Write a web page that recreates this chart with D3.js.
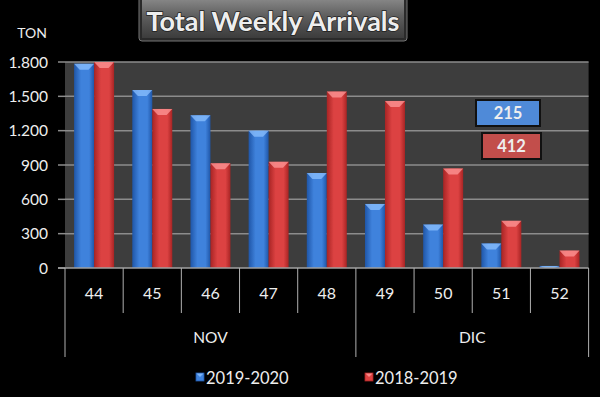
<!DOCTYPE html>
<html>
<head>
<meta charset="utf-8">
<script src="https://cdn.jsdelivr.net/npm/d3@7"></script>
<style>
  html, body { margin: 0; padding: 0; background: #000; }
  svg { display: block; }
  text { font-family: Lato, "Open Sans", sans-serif; fill: #eeeeee; }
</style>
</head>
<body>
<div id="chart"></div>
<script>
// chart data
const weeks = ['44', '45', '46', '47', '48', '49', '50', '51', '52'];
const months = [
  { name: 'NOV', from: '44', to: '48' },
  { name: 'DIC', from: '49', to: '52' }
];
const seriesNames = ['2019-2020', '2018-2019'];
const values2019 = [1785, 1555, 1335, 1200, 830, 560, 380, 215, 18];
const values2018 = [1800, 1390, 915, 928, 1542, 1460, 870, 412, 152];
const yTicks = [0, 300, 600, 900, 1200, 1500, 1800];
const callouts = [
  { label: '215', series: '2019-2020' },
  { label: '412', series: '2018-2019' }
];

const width = 600, height = 397;
const margin = { top: 62, right: 11.4, bottom: 129, left: 65 };
const plotW = width - margin.left - margin.right;
const plotH = height - margin.top - margin.bottom;

const colors = {
  '2019-2020': { dark: '#1f56a8', mid: '#3f82dc', light: '#8cc0ff', box: '#4f8ad8' },
  '2018-2019': { dark: '#a82424', mid: '#dc4242', light: '#ff9a9a', box: '#c24e4b' }
};

const svg = d3.select('#chart').append('svg')
  .attr('width', width)
  .attr('height', height);

const defs = svg.append('defs');
seriesNames.forEach((s, i) => {
  const grad = defs.append('linearGradient')
    .attr('id', 'bar' + i)
    .attr('x1', '0').attr('x2', '1').attr('y1', '0').attr('y2', '0');
  grad.append('stop').attr('offset', '0%').attr('stop-color', colors[s].dark);
  grad.append('stop').attr('offset', '35%').attr('stop-color', colors[s].mid);
  grad.append('stop').attr('offset', '75%').attr('stop-color', colors[s].mid);
  grad.append('stop').attr('offset', '100%').attr('stop-color', colors[s].dark);
});
const tg = defs.append('linearGradient')
  .attr('id', 'titleGrad')
  .attr('x1', '0').attr('x2', '0').attr('y1', '0').attr('y2', '1');
tg.append('stop').attr('offset', '0%').attr('stop-color', '#8a8a8a');
tg.append('stop').attr('offset', '45%').attr('stop-color', '#5e5e5e');
tg.append('stop').attr('offset', '100%').attr('stop-color', '#3c3c3c');

// Title box
svg.append('rect')
  .attr('x', 139).attr('y', -4)
  .attr('width', 268).attr('height', 45)
  .attr('rx', 3)
  .attr('fill', '#2a2a2a')
  .attr('stroke', '#777').attr('stroke-width', 1);
svg.append('rect')
  .attr('x', 142).attr('y', -2)
  .attr('width', 262).attr('height', 40)
  .attr('fill', 'url(#titleGrad)');
svg.append('text')
  .attr('x', 273).attr('y', 31)
  .attr('text-anchor', 'middle')
  .attr('font-size', 27)
  .attr('font-weight', 'bold')
  .attr('fill', '#ffffff')
  .style('paint-order', 'stroke')
  .attr('stroke', '#222').attr('stroke-width', 1.5)
  .text('Total Weekly Arrivals');

const g = svg.append('g')
  .attr('transform', 'translate(' + margin.left + ',' + margin.top + ')');

// scales
const x = d3.scaleBand()
  .domain(weeks)
  .range([0, plotW])
  .paddingInner(0.3125)
  .paddingOuter(0.15625);

const xs = d3.scaleBand()
  .domain(seriesNames)
  .range([0, x.bandwidth()]);

const y = d3.scaleLinear()
  .domain([0, 1800])
  .range([plotH, 0]);

// plot background
g.append('rect')
  .attr('width', plotW).attr('height', plotH)
  .attr('fill', '#3d3d3d');

// gridlines
g.selectAll('.grid').data(yTicks.filter(d => d > 0))
  .enter().append('line')
  .attr('class', 'grid')
  .attr('x1', 0).attr('x2', plotW)
  .attr('y1', d => y(d)).attr('y2', d => y(d))
  .attr('stroke', '#8c8c8c').attr('stroke-width', 1.5);

// y axis labels
const fmt = d3.formatLocale({ decimal: ',', thousands: '.', grouping: [3], currency: ['', ''] }).format(',d');
g.selectAll('.ylab').data(yTicks)
  .enter().append('text')
  .attr('class', 'ylab')
  .attr('x', -17).attr('y', d => y(d) + 5.5)
  .attr('text-anchor', 'end')
  .attr('font-size', 15.5)
  .text(d => fmt(d));

g.selectAll('.ytick').data(yTicks)
  .enter().append('line')
  .attr('x1', -7).attr('x2', 0)
  .attr('y1', d => y(d)).attr('y2', d => y(d))
  .attr('stroke', '#8c8c8c').attr('stroke-width', 1.5);

svg.append('text')
  .attr('x', 32).attr('y', 38)
  .attr('text-anchor', 'middle')
  .attr('font-size', 14)
  .text('TON');

// bars
const rows = weeks.map((w, i) => ({ week: w, '2019-2020': values2019[i], '2018-2019': values2018[i] }));
const groups = g.selectAll('.grp').data(rows)
  .enter().append('g')
  .attr('transform', d => 'translate(' + x(d.week) + ',0)');

seriesNames.forEach((s, si) => {
  groups.append('rect')
    .attr('x', xs(s))
    .attr('y', d => y(d[s]))
    .attr('width', xs.bandwidth())
    .attr('height', d => plotH - y(d[s]))
    .attr('fill', 'url(#bar' + si + ')');
  groups.append('path')
    .attr('d', d => {
      const x0 = xs(s), w = xs.bandwidth(), t = y(d[s]);
      const cap = Math.min(6, (plotH - t));
      return 'M' + x0 + ',' + t + 'L' + (x0 + w) + ',' + t + 'L' + (x0 + w * 0.72) + ',' + (t + cap) +
        'L' + (x0 + w * 0.28) + ',' + (t + cap) + 'Z';
    })
    .attr('fill', colors[s].light)
    .attr('opacity', 0.75);
});

// category axis
const step = x.step();
const bounds = weeks.map(w => x(w) - step * x.paddingInner() / 2).concat([plotW]);
g.append('line')
  .attr('x1', -7).attr('x2', plotW)
  .attr('y1', plotH).attr('y2', plotH)
  .attr('stroke', '#a0a0a0').attr('stroke-width', 1.5);

const monthEdges = new Set([0, plotW]);
months.forEach(m => {
  monthEdges.add(x(m.from) - step * x.paddingInner() / 2);
});
g.selectAll('.wsep').data(bounds)
  .enter().append('line')
  .attr('x1', d => d).attr('x2', d => d)
  .attr('y1', plotH)
  .attr('y2', d => monthEdges.has(d) ? plotH + 89 : plotH + 45)
  .attr('stroke', '#b0b0b0').attr('stroke-width', 1);

g.selectAll('.wlab').data(weeks)
  .enter().append('text')
  .attr('x', d => x(d) + x.bandwidth() / 2)
  .attr('y', plotH + 30.5)
  .attr('text-anchor', 'middle')
  .attr('font-size', 16)
  .text(d => d);

g.selectAll('.mlab').data(months)
  .enter().append('text')
  .attr('x', d => {
    const a = x(d.from) - step * x.paddingInner() / 2;
    const b = x(d.to) + x.bandwidth() + step * x.paddingInner() / 2;
    return (a + b) / 2;
  })
  .attr('y', plotH + 74.5)
  .attr('text-anchor', 'middle')
  .attr('font-size', 15.5)
  .text(d => d.name);

// callout boxes for week 51
const boxPos = { '2019-2020': { x: 476, y: 100, w: 64 }, '2018-2019': { x: 482, y: 133, w: 59 } };
callouts.forEach(c => {
  const p = boxPos[c.series];
  svg.append('rect')
    .attr('x', p.x).attr('y', p.y)
    .attr('width', p.w).attr('height', 26)
    .attr('fill', colors[c.series].box)
    .attr('stroke', '#111').attr('stroke-width', 2);
  svg.append('text')
    .attr('x', p.x + p.w / 2).attr('y', p.y + 19)
    .attr('text-anchor', 'middle')
    .attr('font-size', 16.5)
    .attr('font-weight', 'bold')
    .attr('fill', '#fff')
    .text(c.label);
});

// legend
const legendX = [196, 365];
seriesNames.forEach((s, i) => {
  const lg = svg.append('g').attr('transform', 'translate(' + legendX[i] + ',373)');
  lg.append('rect')
    .attr('width', 8).attr('height', 8)
    .attr('fill', colors[s].mid)
    .attr('stroke', colors[s].dark).attr('stroke-width', 0.8);
  lg.append('path')
    .attr('d', 'M0.5,0.5L7.5,0.5L4,4Z')
    .attr('fill', colors[s].light).attr('opacity', 0.8);
  lg.append('text')
    .attr('x', 10).attr('y', 10.5)
    .attr('font-size', 16.5)
    .text(s);
});
</script>
</body>
</html>
